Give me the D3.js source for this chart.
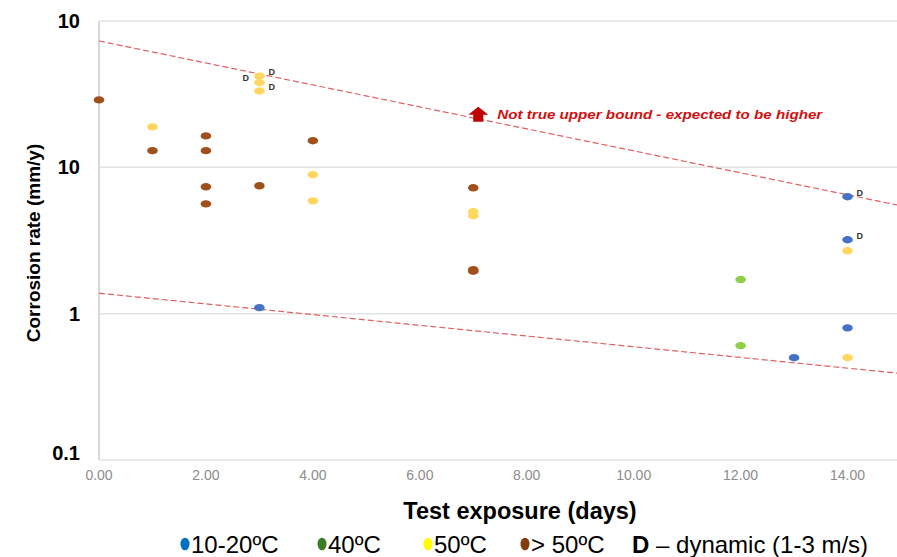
<!DOCTYPE html>
<html>
<head>
<meta charset="utf-8">
<script src="https://cdn.jsdelivr.net/npm/d3@7"></script>
<style>
  body { margin: 0; background: #fff; }
  text { font-family: "Liberation Sans", Arial, sans-serif; }
</style>
</head>
<body>
<svg id="chartSvg" width="897" height="557"></svg>
<script>
// data
const yTickValues = [0.1, 1, 10, 100];
const yTickLabels = ["0.1", "1", "10", "10"];
const xTickValues = [0, 2, 4, 6, 8, 10, 12, 14];

const days1020 = [3, 13, 14, 14, 14];
const rate1020 = [1.1, 0.5, 6.3, 3.2, 0.8];

const days40 = [12, 12];
const rate40 = [1.71, 0.605];

const days50 = [1, 3, 3, 3, 4, 4, 7, 7, 14, 14];
const rate50 = [18.9, 42, 38, 33.3, 8.9, 5.9, 4.97, 4.67, 2.69, 0.5];

const daysOver50 = [0, 1, 2, 2, 2, 2, 3, 4, 7, 7, 7];
const rateOver50 = [28.9, 13.0, 16.4, 13.0, 7.36, 5.63, 7.48, 15.2, 7.25, 2.0, 1.95];

// dynamic tests (day, rate, which side the "D" sits)
const dynamicDays = [3, 3, 3, 14, 14];
const dynamicRates = [42, 38, 33.3, 6.3, 3.2];
const dynamicSide = ["right", "left", "right", "right", "right"];

const upperBoundDays = [0, 15];
const upperBoundRates = [73, 5.46];
const lowerBoundDays = [0, 15];
const lowerBoundRates = [1.38, 0.39];

const legendLabels = ["10-20ºC", "40ºC", "50ºC", "> 50ºC"];
const legendColors = ["#0070c0", "#3a7d22", "#ffff00", "#843c0c"];

const svg = d3.select("#chartSvg");

let xScale = d3.scaleLinear().domain([0, 15]).range([99, 901]);
let yScale = d3.scaleLog().domain([0.1, 100]).range([460, 21]);

// gridlines
svg.selectAll(".grid")
  .data(yTickValues)
  .enter().append("line")
  .attr("x1", xScale(0)).attr("x2", 897)
  .attr("y1", function (d) { return yScale(d); })
  .attr("y2", function (d) { return yScale(d); })
  .style("stroke", "#e3e3e3")
  .style("stroke-width", 1.5);

// left axis line
svg.append("line")
  .attr("x1", xScale(0)).attr("x2", xScale(0))
  .attr("y1", yScale(100)).attr("y2", yScale(0.1))
  .style("stroke", "#d9d9d9")
  .style("stroke-width", 2);

// y tick labels
svg.selectAll(".ylab")
  .data(yTickValues)
  .enter().append("text")
  .attr("x", 80)
  .attr("y", function (d, i) { return yScale(d) + (i === 0 ? -7 : 0); })
  .attr("dy", "0.35em")
  .attr("text-anchor", "end")
  .style("font-size", "20px")
  .style("font-weight", "bold")
  .text(function (d, i) { return yTickLabels[i]; });

// x tick labels
svg.selectAll(".xlab")
  .data(xTickValues)
  .enter().append("text")
  .attr("x", function (d) { return xScale(d); })
  .attr("y", 480)
  .attr("text-anchor", "middle")
  .style("font-size", "14px")
  .style("fill", "#8c8c8c")
  .text(function (d) { return d.toFixed(2); });

// axis titles
svg.append("text")
  .attr("x", 520).attr("y", 519)
  .attr("text-anchor", "middle")
  .style("font-size", "23.5px")
  .style("font-weight", "bold")
  .text("Test exposure (days)");

svg.append("text")
  .attr("transform", "translate(40,243) rotate(-90)")
  .attr("text-anchor", "middle")
  .style("font-size", "19px")
  .style("font-weight", "bold")
  .text("Corrosion rate (mm/y)");

// bound lines
let line = d3.line()
  .x(function (d) { return xScale(d[0]); })
  .y(function (d) { return yScale(d[1]); });

[[upperBoundDays, upperBoundRates], [lowerBoundDays, lowerBoundRates]].forEach(function (b) {
  svg.append("path")
    .datum(d3.zip(b[0], b[1]))
    .attr("d", line)
    .style("fill", "none")
    .style("stroke", "#e06060")
    .style("stroke-width", 1.2)
    .style("stroke-dasharray", "6,3");
});

// points
function drawSeries(days, rates, color) {
  svg.selectAll(null)
    .data(d3.zip(days, rates))
    .enter().append("ellipse")
    .attr("cx", function (d) { return xScale(d[0]); })
    .attr("cy", function (d) { return yScale(d[1]); })
    .attr("rx", 5.3)
    .attr("ry", 3.7)
    .style("fill", color);
}

drawSeries(daysOver50, rateOver50, "#a0501a");
drawSeries(days50, rate50, "#ffd75e");
drawSeries(days40, rate40, "#8fcf4a");
drawSeries(days1020, rate1020, "#4472c4");

// "D" markers for dynamic tests
svg.selectAll(".dlab")
  .data(d3.zip(dynamicDays, dynamicRates, dynamicSide))
  .enter().append("text")
  .attr("x", function (d) { return xScale(d[0]) + (d[2] === "right" ? 9 : -17); })
  .attr("y", function (d) { return yScale(d[1]) - 1; })
  .style("font-size", "9px")
  .style("font-weight", "bold")
  .style("fill", "#333")
  .text("D");

// annotation arrow + text
let ax = xScale(7) + 5, ay = yScale(20.5);
svg.append("path")
  .attr("d", "M" + (ax - 5) + "," + ay + " v-7 h-5 l10,-8 l10,8 h-5 v7 z")
  .style("fill", "#c00000");

svg.append("text")
  .attr("x", ax + 19).attr("y", ay - 3)
  .attr("textLength", 325)
  .attr("lengthAdjust", "spacingAndGlyphs")
  .style("font-size", "12.5px")
  .style("font-weight", "bold")
  .style("font-style", "italic")
  .style("fill", "#d01010")
  .text("Not true upper bound - expected to be higher");

// legend
let legendX = [180, 317, 423, 520];
legendLabels.forEach(function (l, i) {
  svg.append("ellipse")
    .attr("cx", legendX[i] + 5).attr("cy", 544)
    .attr("rx", 4.5).attr("ry", 6.3)
    .style("fill", legendColors[i]);
  svg.append("text")
    .attr("x", legendX[i] + 11).attr("y", 553)
    .style("font-size", "24px")
    .text(l);
});

let dyn = svg.append("text")
  .attr("x", 632).attr("y", 553)
  .style("font-size", "24px");
dyn.append("tspan").style("font-weight", "bold").text("D");
dyn.append("tspan").text(" – dynamic (1-3 m/s)");
</script>
</body>
</html>
